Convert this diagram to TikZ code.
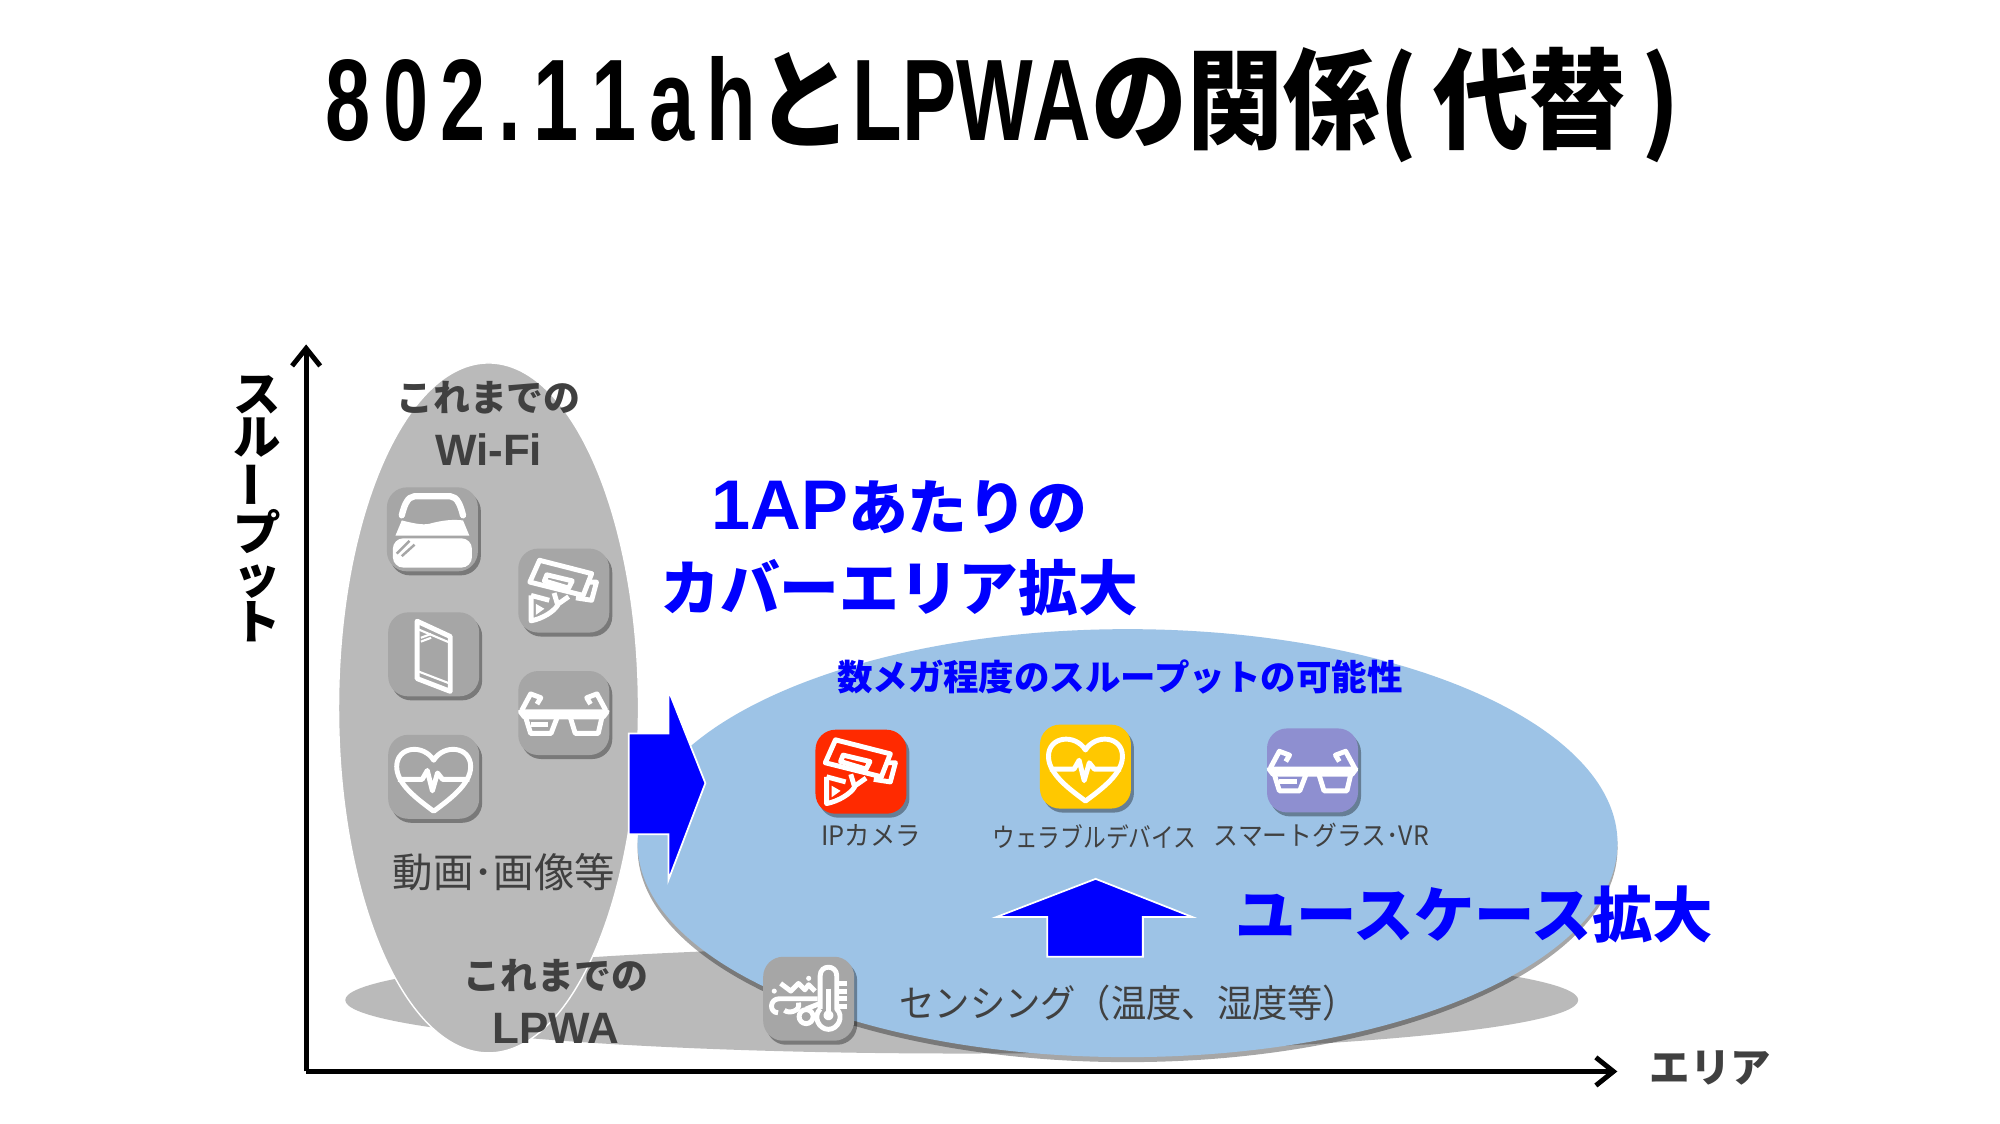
\documentclass[tikz,border=0pt]{standalone}
\usepackage{graphicx}
\usepackage{fontspec}
\setmainfont{Noto Sans CJK JP}
\newfontfamily\latinfont{Liberation Sans}
\usetikzlibrary{positioning, arrows.meta, shadows, shapes.geometric}
\newcommand{\squeeze}[2]{\scalebox{#1}[1]{#2}}
\newcommand{\titlelatin}[2]{\squeeze{0.7}{\latinfont\fontsize{33}{35}\selectfont\addfontfeature{Kerning=Off,LetterSpace=#1}#2}}
\definecolor{softgray}{HTML}{BABABA}
\definecolor{icongray}{HTML}{A6A6A6}
\definecolor{softblue}{HTML}{9DC3E6}
\definecolor{darktext}{HTML}{404040}
\definecolor{iconred}{HTML}{FF2A00}
\definecolor{iconyellow}{HTML}{FFC800}
\definecolor{iconpurple}{HTML}{8E8FD0}
\tikzset{
  softshadow/.style={drop shadow={shadow xshift=0.03cm,shadow yshift=-0.04cm,opacity=.35,fill=black}},
  iconbox/.style={rounded corners=0.2cm,minimum width=0.91cm,minimum height=0.84cm,inner sep=0,softshadow},
  iconline/.style={draw=white,line width=1.4pt,line join=round},
  blockarrow/.style={fill=blue,draw=white,line width=0.5pt},
  bluetext/.style={text=blue,font=\bfseries},
  greytext/.style={text=darktext,align=center},
  pics/camera/.style={code={
    \draw[iconline] (-20,-25) -- (23,-14) -- (16,4) -- (-28,-7) -- cycle;
    \draw[iconline] (-14,-13) -- (7,-8) -- (4,-2) -- (-16,-8) -- cycle;
    \draw[iconline] (19,-7) -- (27,-7) -- (23,8) -- (10,6);
    \draw[iconline] (-27,4) -- (-27,25) .. controls (-17,23) and (-8,17) .. (-5,12) -- (-8,2);
    \draw[iconline] (-27,4) -- (-12,8);
    \draw[iconline] (-6,12) -- (4,5);
    \fill[white] (-23,11) -- (-23,20) -- (-16,15) -- cycle;
  }},
  pics/heart/.style={code={
    \draw[iconline] (0,27) .. controls (-12,18) and (-29,6) .. (-29,-8) .. controls (-29,-24) and (-8,-26) .. (0,-13) .. controls (8,-26) and (29,-24) .. (29,-8) .. controls (29,6) and (12,18) .. (0,27) -- cycle;
    \draw[iconline] (-28,2) -- (-9,2) -- (-5,-5) -- (-1,11) -- (3,-3) -- (7,2) -- (28,2);
  }},
  pics/glasses/.style={code={
    \draw[iconline] (-34,-1) -- (34,-1) -- (31,3) -- (-31,3) -- cycle;
    \draw[iconline] (-30,3) -- (-26,16) -- (-10,16) -- (-5,3);
    \draw[iconline] (5,3) -- (9,16) -- (27,16) -- (30,3);
    \draw[iconline] (-26,9) -- (-12,9);
    \draw[iconline] (-33,-2) -- (-26,-15) -- (-18,-12) -- (-21,-7);
    \draw[iconline] (33,-2) -- (26,-15) -- (18,-12) -- (21,-7);
  }},
  pics/phone/.style={code={
    \draw[iconline] (-13,-26) -- (13,-14) -- (13,29) -- (-13,19) -- cycle;
    \draw[iconline,line width=0.6pt] (-13,-20) -- (13,-9);
    \draw[iconline,line width=0.6pt] (-13,13) -- (13,23);
    \draw[iconline,line width=0.6pt] (-10,-13) -- (-2,-16);
    \draw[iconline,line width=0.6pt] (-10,-10) -- (-2,-13);
  }},
  pics/goggles/.style={code={
    \draw[iconline,line width=1.8pt,line cap=round] (-24,-11) .. controls (-20,-27) and (-16,-26) .. (-10,-26) -- (10,-26) .. controls (16,-26) and (20,-27) .. (24,-11);
    \fill[white] (-29,5) -- (-24,-7) .. controls (-12,-4) and (-6,-3) .. (0,-5) .. controls (8,-7) and (16,-8) .. (24,-7) -- (29,5) -- cycle;
    \fill[white,rounded corners=3] (-31,7) rectangle (31,30);
    \draw[icongray,line width=0.7pt] (-28,19) -- (-18,9);
    \draw[icongray,line width=0.7pt] (-24,21) -- (-14,12);
  }},
  pics/sensor/.style={code={
    \draw[iconline] (9,8) -- (9,-18) .. controls (9,-27) and (22,-27) .. (22,-18) -- (22,8) .. controls (28,14) and (23,24) .. (15.5,24) .. controls (8,24) and (3,14) .. (9,8);
    \draw[iconline] (15.5,-8) -- (15.5,10);
    \draw[iconline] (15.5,13) circle (2);
    \foreach \tickpos in {-12,-6,0,6}
      \draw[iconline] (24,\tickpos) -- (30,\tickpos);
    \fill[white] (-27,-6) circle (2);
    \fill[white] (0,-16) circle (2);
    \draw[iconline] (-22,-12) -- (-14,-6) -- (-8,-12) -- (-3,-7) -- (0,-11) -- (5,-6);
    \draw[iconline] (7,0) -- (-23,0) .. controls (-31,0) and (-31,11) .. (-24,11);
    \draw[iconline] (-8,3) .. controls (-6,10) and (-16,12) .. (-19,9);
    \draw[iconline] (-2,14) circle (5.5);
    \draw[iconline] (-2,8) -- (8,4);
  }},
}
\begin{document}
\begin{tikzpicture}[x=0.012755cm,y=-0.012755cm]
    \useasboundingbox[fill=white] (0,0) rectangle (1568,881.1);

    % the title
    \node[font=\bfseries\fontsize{31}{33}\selectfont] (title) at (786,82)
        {\titlelatin{15.5}{802.11ah}\squeeze{0.88}{と}\titlelatin{0}{LPWA}\squeeze{0.88}{の関係({\,}代替{\,})}};

    % the grey areas
    \node[ellipse,fill=softgray,minimum width=12.33cm,minimum height=1.07cm,inner sep=0] (lpwa) at (754,784) {};
    \node[ellipse,fill=softgray,draw=white,line width=0.4pt,minimum width=3.0cm,minimum height=6.9cm,inner sep=0] (wifi) at (383,555) {};
    % the blue area
    \node[ellipse,fill=softblue,minimum width=9.8cm,minimum height=4.28cm,inner sep=0,drop shadow={shadow xshift=0cm,shadow yshift=-0.05cm,opacity=.35,fill=black}] (wide) at (884,661) {};

    % the axes
    \coordinate (O) at (240,840);
    \coordinate (ytop) at (240,270);
    \coordinate (xend) at (1268,840);
    \draw[line width=1.4pt,-{Straight Barb[length=5pt,width=8pt]}] (O) -- (ytop);
    \draw[line width=1.4pt,-{Straight Barb[length=5pt,width=8pt]}] (O) -- (xend);

    \node[font=\bfseries\fontsize{13.5}{12.1}\selectfont,align=center,inner sep=0] (ylabel) at (202,399)
        {ス\\ル\\\rotatebox{90}{ー}\\プ\\ッ\\ト};
    \node[greytext,font=\bfseries\fontsize{11.5}{12}\selectfont] (xlabel) at (1341,837) {エリア};

    % the arrows
    \draw[blockarrow] (493,575) -- (524,575) -- (524,541) -- (553,614) -- (524,690) -- (524,654) -- (493,654) -- cycle;
    \draw[blockarrow] (859,689) -- (935,719) -- (896,719) -- (896,750) -- (821,750) -- (821,719) -- (781,719) -- cycle;

    % old wifi
    \node[greytext,font=\bfseries\fontsize{10.5}{15.5}\selectfont] (wifilabel) at (383,332) {これまでの\\{\latinfont\fontsize{12.5}{15.5}\selectfont Wi-Fi}};
    \node[iconbox,fill=icongray] (goggleA) at (339,415) {};
    \node[iconbox,fill=icongray] (camA) at (442,463) {};
    \node[iconbox,fill=icongray] (phoneA) at (340,513) {};
    \node[iconbox,fill=icongray] (glassA) at (442,559) {};
    \node[iconbox,fill=icongray] (heartA) at (340,609) {};
    \pic at (goggleA) {goggles};
    \pic[scale=0.95] at (camA) {camera};
    \pic at (phoneA) {phone};
    \pic at (glassA) {glasses};
    \pic at (heartA) {heart};
    \node[greytext,font=\fontsize{11.5}{12}\selectfont] (videolabel) at (395,684) {動画･画像等};

    % old lpwa
    \node[greytext,font=\bfseries\fontsize{10.5}{15.5}\selectfont] (lpwalabel) at (436,785) {これまでの\\{\latinfont\fontsize{12.5}{15.5}\selectfont LPWA}};
    \node[iconbox,fill=icongray] (sensorA) at (634,783) {};
    \pic at (sensorA) {sensor};
    \node[greytext,font=\fontsize{10.8}{12}\selectfont] (sensorlabel) at (885,786) {\squeeze{0.93}{センシング（温度、湿度等）}};

    % new use cases
    \node[bluetext,font=\bfseries\fontsize{17}{23}\selectfont,align=center] (coverlabel) at (705,430) {{\latinfont\fontsize{20}{23}\selectfont 1AP}あたりの\\カバーエリア拡大};
    \node[bluetext,font=\bfseries\fontsize{10.1}{12}\selectfont] (ratelabel) at (878,531) {数メガ程度のスループットの可能性};
    \node[iconbox,fill=iconred] (camB) at (675,605) {};
    \node[iconbox,fill=iconyellow] (heartB) at (851,601) {};
    \node[iconbox,fill=iconpurple] (glassB) at (1029,604) {};
    \pic at (camB) {camera};
    \pic at (heartB) {heart};
    \pic at (glassB) {glasses};
    \node[greytext,font=\fontsize{7.6}{9}\selectfont] (camlabel) at (683,655) {\squeeze{0.95}{IPカメラ}};
    \node[greytext,font=\fontsize{7.6}{9}\selectfont] (heartlabel) at (858,656) {\squeeze{0.85}{ウェラブルデバイス}};
    \node[greytext,font=\fontsize{7.6}{9}\selectfont] (glasslabel) at (1036,655) {\squeeze{0.93}{スマートグラス･VR}};
    \node[bluetext,font=\bfseries\fontsize{17.2}{20}\selectfont] (caselabel) at (1156,717) {ユースケース拡大};
\end{tikzpicture}
\end{document}
